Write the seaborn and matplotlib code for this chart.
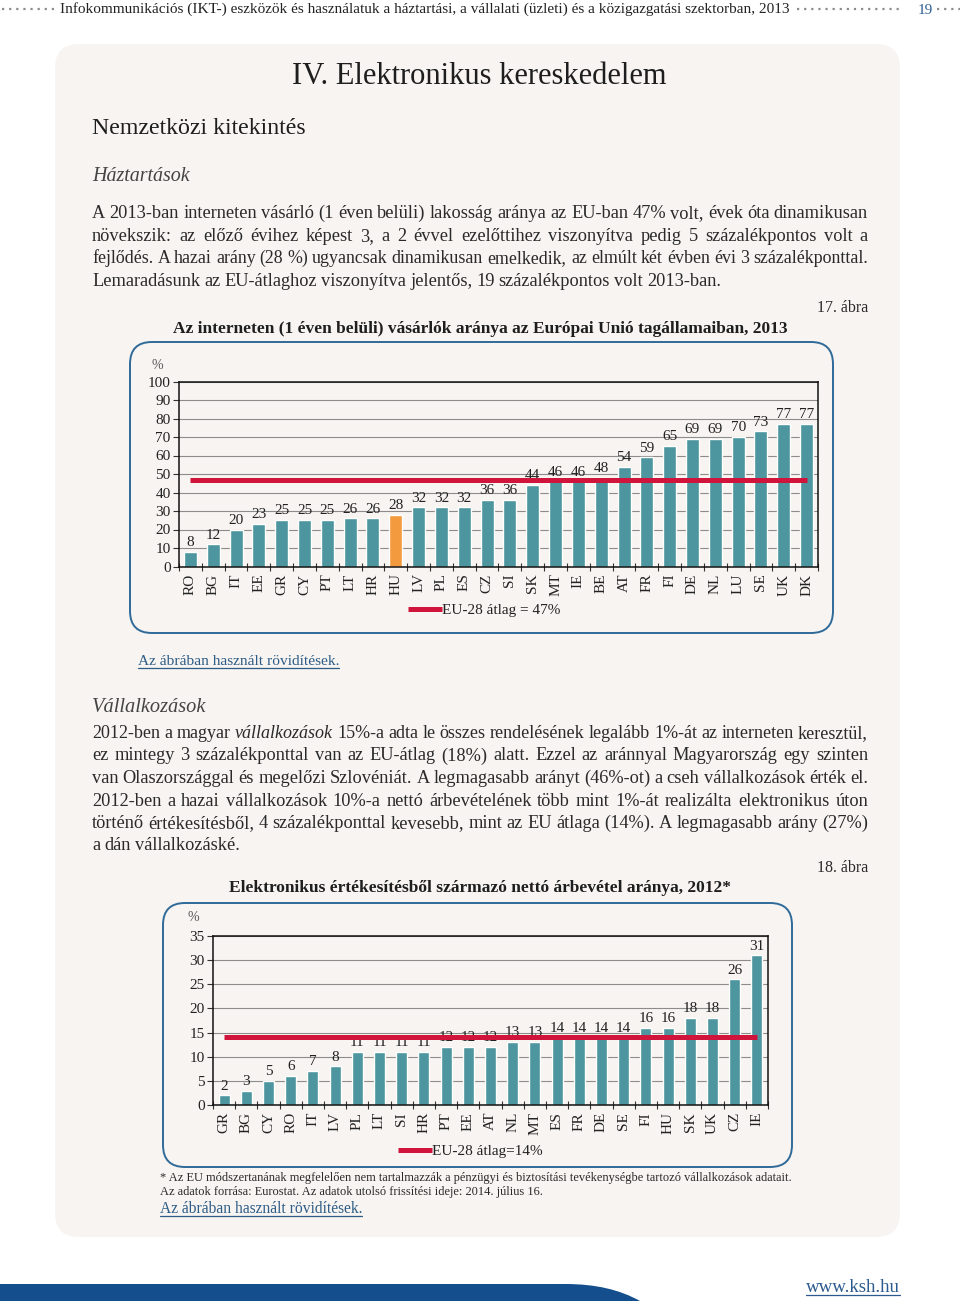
import matplotlib
matplotlib.use('Agg')
import matplotlib.pyplot as plt
from matplotlib.patches import FancyBboxPatch, PathPatch
from matplotlib.path import Path
import seaborn as sns
import pandas as pd

# 17. ábra - internetes vásárlók aránya, 2013 (%)
orszagok_2013 = ['RO', 'BG', 'IT', 'EE', 'GR', 'CY', 'PT', 'LT', 'HR', 'HU', 'LV', 'PL', 'ES', 'CZ',
                 'SI', 'SK', 'MT', 'IE', 'BE', 'AT', 'FR', 'FI', 'DE', 'NL', 'LU', 'SE', 'UK', 'DK']
vasarlok_2013 = [8, 12, 20, 23, 25, 25, 25, 26, 26, 28, 32, 32, 32, 36,
                 36, 44, 46, 46, 48, 54, 59, 65, 69, 69, 70, 73, 77, 77]
eu_atlag_2013 = 47

# 18. ábra - elektronikus értékesítésből származó árbevétel aránya, 2012 (%)
orszagok_2012 = ['GR', 'BG', 'CY', 'RO', 'IT', 'LV', 'PL', 'LT', 'SI', 'HR', 'PT', 'EE', 'AT',
                 'NL', 'MT', 'ES', 'FR', 'DE', 'SE', 'FI', 'HU', 'SK', 'UK', 'CZ', 'IE']
arbevetel_2012 = [2, 3, 5, 6, 7, 8, 11, 11, 11, 11, 12, 12, 12,
                  13, 13, 14, 14, 14, 14, 16, 16, 18, 18, 26, 31]
eu_atlag_2012 = 14

bekezdes_1 = [
    'A 2013-ban interneten vásárló (1 éven belüli) lakosság aránya az EU-ban 47% volt, évek óta dinamikusan',
    'növekszik: az előző évihez képest 3, a 2 évvel ezelőttihez viszonyítva pedig 5 százalékpontos volt a',
    'fejlődés. A hazai arány (28 %) ugyancsak dinamikusan emelkedik, az elmúlt két évben évi 3 százalékponttal.',
    'Lemaradásunk az EU-átlaghoz viszonyítva jelentős, 19 százalékpontos volt 2013-ban.',
]
bekezdes_2 = [
    '2012-ben a magyar vállalkozások 15%-a adta le összes rendelésének legalább 1%-át az interneten keresztül,',
    'ez mintegy 3 százalékponttal van az EU-átlag (18%) alatt. Ezzel az aránnyal Magyarország egy szinten',
    'van Olaszországgal és megelőzi Szlovéniát. A legmagasabb arányt (46%-ot) a cseh vállalkozások érték el.',
    '2012-ben a hazai vállalkozások 10%-a nettó árbevételének több mint 1%-át realizálta elektronikus úton',
    'történő értékesítésből, 4 százalékponttal kevesebb, mint az EU átlaga (14%). A legmagasabb arány (27%)',
    'a dán vállalkozáské.',
]

TEAL = '#4E969F'
ORANGE = '#F39A3E'
RED = '#D0143C'
BLUE = '#2F6A99'
LINK = '#2D5C86'
PANEL = '#F7F4F1'
TEXT = '#2A2A2A'

sns.set_theme(style='white')
plt.rcParams['font.family'] = ['Liberation Serif', 'DejaVu Serif']

fig = plt.figure(figsize=(9.6, 13.08), dpi=100)
fig.patch.set_facecolor('white')
bg = fig.add_axes([0, 0, 1, 1])
bg.set_xlim(0, 960)
bg.set_ylim(1308, 0)
bg.axis('off')
renderer = fig.canvas.get_renderer()


def szoveg(x, y, s, size, ha='left', width=None, color=TEXT, **kw):
    t = bg.text(x, y, s, fontsize=size, ha=ha, va='baseline', color=color, **kw)
    if width:
        w = t.get_window_extent(renderer).width
        t.set_fontsize(size * width / w)
    return t


def alahuzott(x, y, s, width, color=LINK):
    t = szoveg(x, y, s, 11, width=width, color=color)
    bg.plot([x, x + width], [y + 2.5, y + 2.5], color=color, lw=0.9)


def sorkizart(sor, y, size, x0=92, x1=868, utolso=False, dolt=()):
    szavak = sor.split(' ')
    tt = [bg.text(0, y, sz, fontsize=size, color=TEXT, va='baseline',
                  style='italic' if sz in dolt else 'normal') for sz in szavak]
    ws = [t.get_window_extent(renderer).width for t in tt]
    szokoz = size * 0.22 * 100 / 72
    termeszetes = sum(ws) + szokoz * (len(ws) - 1)
    if termeszetes > x1 - x0:
        arany = (x1 - x0) / termeszetes
        for t in tt:
            t.set_fontsize(size * arany)
        ws = [w * arany for w in ws]
        szokoz *= arany
    gap = szokoz if utolso else (x1 - x0 - sum(ws)) / (len(ws) - 1)
    x = x0
    for t, w in zip(tt, ws):
        t.set_x(x)
        x += w + gap


# háttér panel, fejléc, lábléc
bg.add_patch(FancyBboxPatch((55, 44), 845, 1193, boxstyle='round,pad=0,rounding_size=24',
                            fc=PANEL, ec='none'))
for x0, x1 in [(2, 56), (797, 902), (937, 960)]:
    bg.plot([x0, x1], [9, 9], color='#8C8C8C', lw=1.6, ls=(0, (1, 2.2)))
szoveg(60, 13, 'Infokommunikációs (IKT-) eszközök és használatuk a háztartási, a vállalati (üzleti) '
       'és a közigazgatási szektorban, 2013', 10, width=733, color='#222')
szoveg(918, 14, '19', 11, color='#2E5E95')

lab = Path([(0, 1284), (566, 1284), (610, 1284), (640, 1301), (0, 1301), (0, 1284)],
           [Path.MOVETO, Path.LINETO, Path.CURVE3, Path.CURVE3, Path.LINETO, Path.CLOSEPOLY])
bg.add_patch(PathPatch(lab, fc='#154E8C', ec='none'))
alahuzott(806, 1292, 'www.ksh.hu', 94, color='#2B5A8E')

# szöveg
szoveg(292, 84, 'IV. Elektronikus kereskedelem', 19, width=376, color='#1E1E1E')
szoveg(92, 134, 'Nemzetközi kitekintés', 15, width=215, color='#1E1E1E')
szoveg(92, 181, 'Háztartások', 15, width=98, style='italic', color='#444')
for i, sor in enumerate(bekezdes_1):
    sorkizart(sor, 218 + i * 22.7, 13.2, utolso=(i == len(bekezdes_1) - 1))
szoveg(868, 312, '17. ábra', 11.5, ha='right')
szoveg(480, 333, 'Az interneten (1 éven belüli) vásárlók aránya az Európai Unió tagállamaiban, 2013',
       11, ha='center', width=612, weight='bold', color='#1E1E1E')
alahuzott(138, 665, 'Az ábrában használt rövidítések.', 201)
szoveg(92, 712, 'Vállalkozások', 15, width=115, style='italic', color='#444')
for i, sor in enumerate(bekezdes_2):
    sorkizart(sor, 738 + i * 22.5, 13.2, utolso=(i == len(bekezdes_2) - 1),
              dolt=('vállalkozások',) if i == 0 else ())
szoveg(868, 872, '18. ábra', 11.5, ha='right')
szoveg(480, 892, 'Elektronikus értékesítésből származó nettó árbevétel aránya, 2012*',
       11, ha='center', width=500, weight='bold', color='#1E1E1E')
szoveg(160, 1181, '* Az EU módszertanának megfelelően nem tartalmazzák a pénzügyi és biztosítási '
       'tevékenységbe tartozó vállalkozások adatait.', 8, width=627)
szoveg(160, 1195, 'Az adatok forrása: Eurostat. Az adatok utolsó frissítési ideje: 2014. július 16.',
       8, width=380)
alahuzott(160, 1213, 'Az ábrában használt rövidítések.', 202)

# diagram keretek
for x, y, w, h in [(130, 342, 703, 291), (163, 903, 629, 264)]:
    bg.add_patch(FancyBboxPatch((x, y), w, h, boxstyle='round,pad=0,rounding_size=22',
                                fc=PANEL, ec=BLUE, lw=1.4))


def oszlopdiagram(box, orszagok, ertekek, atlag, ymax, lepes, szelesseg, cimke, jel, kiemelt=None):
    l, t, r, b = box
    ax = fig.add_axes([l / 960, 1 - b / 1308, (r - l) / 960, (b - t) / 1308])
    ax.set_facecolor('none')
    df = pd.DataFrame({'orszag': orszagok, 'ertek': ertekek})
    szinek = {o: (ORANGE if o == kiemelt else TEAL) for o in orszagok}
    sns.barplot(data=df, x='orszag', y='ertek', hue='orszag', palette=szinek, width=szelesseg,
                saturation=1, legend=False, ax=ax)
    for c in ax.containers:
        ax.bar_label(c, fontsize=11, padding=2, color='#222')
    n = len(orszagok)
    ax.hlines(atlag, 0, n - 1, color=RED, lw=3.6, label=cimke, zorder=5)
    ax.set_xlim(-0.5, n - 0.5)
    ax.set_ylim(0, ymax)
    ax.set_yticks(range(0, ymax + 1, lepes))
    ax.set_xticks([i - 0.5 for i in range(n + 1)], minor=True)
    ax.yaxis.grid(True, color='#8C8C8C', lw=0.8)
    ax.set_axisbelow(True)
    ax.set_xlabel('')
    ax.set_ylabel('')
    for s in ax.spines.values():
        s.set_color('#111')
        s.set_linewidth(1.1)
    ax.tick_params(axis='x', which='major', length=0, labelrotation=90, labelsize=11, pad=5,
                   labelcolor='#222')
    ax.tick_params(axis='x', which='minor', length=6, direction='inout', width=0.8, color='#333',
                   bottom=True)
    ax.tick_params(axis='y', length=4, direction='out', width=0.8, labelsize=11, pad=2,
                   labelcolor='#222', color='#333', left=True)
    ax.legend(loc='center left', bbox_to_anchor=jel, bbox_transform=bg.transData, frameon=False,
              fontsize=11, handlelength=2.2, handletextpad=0.05, borderpad=0, borderaxespad=0,
              labelcolor='#222')
    return ax


oszlopdiagram((179, 381.5, 818, 566.5), orszagok_2013, vasarlok_2013, eu_atlag_2013, 100, 10, 0.57,
              'EU-28 átlag = 47%', (408, 610), kiemelt='HU')
szoveg(151, 369, '%', 10, color='#555')

oszlopdiagram((213, 936, 768, 1105), orszagok_2012, arbevetel_2012, eu_atlag_2012, 35, 5, 0.5,
              'EU-28 átlag=14%', (398, 1151))
szoveg(187, 921, '%', 10, color='#555')

fig.savefig('out.png', dpi=100, facecolor='white')
